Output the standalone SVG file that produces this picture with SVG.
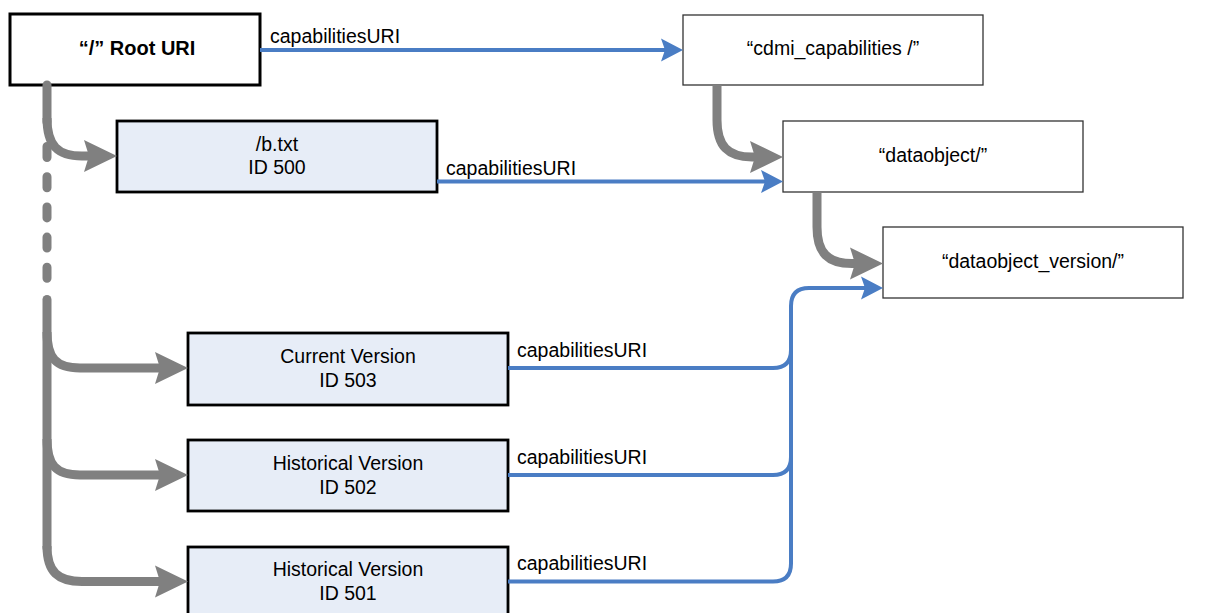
<svg xmlns="http://www.w3.org/2000/svg" width="1205" height="613" viewBox="0 0 1205 613">
<style>
.bg{fill:#ffffff}
.n-white{fill:#ffffff;stroke:#333333;stroke-width:1.3}
.n-root{fill:#ffffff;stroke:#000000;stroke-width:3}
.n-blue{fill:#E7EDF7;stroke:#000000;stroke-width:2.8}
text{font-family:"Liberation Sans",Arial,sans-serif;font-size:19.5px;fill:#000000}
.c{text-anchor:middle}
.b{font-weight:bold;font-size:20px}
.g{fill:none;stroke:#808080;stroke-width:9}
.bl{fill:none;stroke:#4A7DC4;stroke-width:4}
.dash{stroke-dasharray:11 19.2;stroke-linecap:round}
</style>
<defs>
<marker id="ga" markerUnits="userSpaceOnUse" orient="auto" refX="0" refY="0" markerWidth="40" markerHeight="40" overflow="visible" style="overflow:visible">
<path d="M-5,-16 L28,0 L-5,16 L0,0 Z" fill="#808080"/>
</marker>
<marker id="ba" markerUnits="userSpaceOnUse" orient="auto" refX="0" refY="0" markerWidth="30" markerHeight="30" overflow="visible" style="overflow:visible">
<path d="M-4,-11.5 L18,0 L-4,11.5 L0,0 Z" fill="#4A7DC4"/>
</marker>
</defs>
<rect class="bg" x="0" y="0" width="1205" height="613"/>

<g id="root">
<rect class="n-root" x="10" y="14" width="250" height="71"/>
<text class="c b" x="137" y="55">“/” Root URI</text>
</g>
<g id="cdmi_capabilities">
<rect class="n-white" x="683" y="15" width="300" height="70"/>
<text class="c" x="833" y="55">“cdmi_capabilities /”</text>
</g>
<g id="dataobject">
<rect class="n-white" x="783" y="121" width="300" height="71"/>
<text class="c" x="933" y="162">“dataobject/”</text>
</g>
<g id="dataobject_version">
<rect class="n-white" x="883" y="227" width="300" height="71"/>
<text class="c" x="1033" y="268">“dataobject_version/”</text>
</g>
<g id="btxt">
<rect class="n-blue" x="117" y="121" width="320" height="71"/>
<text class="c" x="277" y="150.5">/b.txt</text>
<text class="c" x="277" y="174">ID 500</text>
</g>
<g id="v503">
<rect class="n-blue" x="188" y="333" width="320" height="72"/>
<text class="c" x="348" y="362.5">Current Version</text>
<text class="c" x="348" y="386.5">ID 503</text>
</g>
<g id="v502">
<rect class="n-blue" x="188" y="440" width="320" height="71"/>
<text class="c" x="348" y="470">Historical Version</text>
<text class="c" x="348" y="493.5">ID 502</text>
</g>
<g id="v501">
<rect class="n-blue" x="188" y="547" width="320" height="71"/>
<text class="c" x="348" y="575.5">Historical Version</text>
<text class="c" x="348" y="600">ID 501</text>
</g>

<g id="connectors">
<!-- blue capabilitiesURI links -->
<path class="bl" d="M260,50 H665" marker-end="url(#ba)"/>
<path class="bl" d="M437,181.5 H765" marker-end="url(#ba)"/>
<path class="bl" d="M508,581.5 H773 Q791,581.5 791,563.5 V306 Q791,288 809,288 H865" marker-end="url(#ba)"/>
<path class="bl" d="M508,368 H773 Q791,368 791,350"/>
<path class="bl" d="M508,475 H773 Q791,475 791,457"/>
<text x="270" y="42.5">capabilitiesURI</text>
<text x="446" y="174.5">capabilitiesURI</text>
<text x="517" y="357">capabilitiesURI</text>
<text x="517" y="463.5">capabilitiesURI</text>
<text x="517" y="570">capabilitiesURI</text>

<!-- gray hierarchy links -->
<path class="g" style="stroke-linecap:round" d="M47,85 V122"/>
<path class="g" d="M47,118 C47,146 58,156 82,156 H89" marker-end="url(#ga)"/>
<path class="g dash" d="M47,146.5 V281"/>
<path class="g" style="stroke-linecap:round" d="M47,299.5 V548"/>
<path class="g" d="M47,546 C47,572 58,581.5 82,581.5 H160" marker-end="url(#ga)"/>
<path class="g" d="M47,332 C47,358 56,368 80,368 H160" marker-end="url(#ga)"/>
<path class="g" d="M47,439 C47,465 56,475 80,475 H160" marker-end="url(#ga)"/>
<path class="g" d="M717,85 V120 C717,146 728,157 752,157 H755" marker-end="url(#ga)"/>
<path class="g" d="M817,192 V227 C817,253 828,263.5 852,263.5 H855" marker-end="url(#ga)"/>
</g>
</svg>
